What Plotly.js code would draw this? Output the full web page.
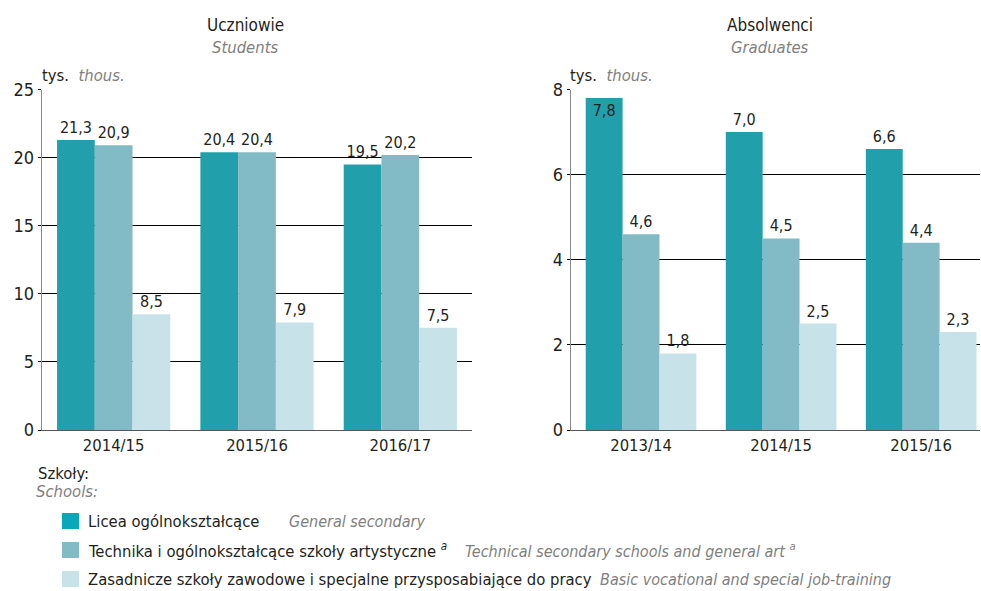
<!DOCTYPE html>
<html>
<head>
<meta charset="utf-8">
<script src="https://cdn.plot.ly/plotly-3.0.1.min.js"></script>
<style>html,body{margin:0;padding:0;background:#fff;}#chart{width:981px;height:591px;}</style>
</head>
<body>
<div id="chart"></div>
<script>
// ---- data ----
var studentYears = ['2014/15', '2015/16', '2016/17'];
var graduateYears = ['2013/14', '2014/15', '2015/16'];
var studentsGeneral = [21.3, 20.4, 19.5];
var studentsTechnical = [20.9, 20.4, 20.2];
var studentsVocational = [8.5, 7.9, 7.5];
var graduatesGeneral = [7.8, 7.0, 6.6];
var graduatesTechnical = [4.6, 4.5, 4.4];
var graduatesVocational = [1.8, 2.5, 2.3];
var seriesNamesPl = ['Licea ogólnokształcące', 'Technika i ogólnokształcące szkoły artystyczne <sup><i>a</i></sup>', 'Zasadnicze szkoły zawodowe i specjalne przysposabiające do pracy'];
var seriesNamesEn = ['General secondary', 'Technical secondary schools and general art <sup>a</sup>', 'Basic vocational and special job-training'];
var studentTicks = [0, 5, 10, 15, 20, 25];
var graduateTicks = [0, 2, 4, 6, 8];

// ---- style ----
var FONT = '"DejaVu Sans Condensed", "Liberation Sans Narrow", "Arial Narrow", sans-serif';
var DARK = '#231f20';
var GRAY = '#7f7f80';
var colors = ['#21a0ab', '#82bbc6', '#c8e2e9'];
var swatchColors = ['#09a8b8', '#82bbc6', '#c8e2e9'];
var LBL = 16;

function bars(x, y, i, xa, ya, positions) {
  return {
    type: 'bar', x: x, y: y, xaxis: xa, yaxis: ya,
    marker: {color: colors[i], line: {width: 0}},
    texttemplate: '%{y:.1f}',
    textposition: positions || 'outside',
    insidetextanchor: 'end',
    textfont: {family: FONT, size: LBL, color: DARK},
    insidetextfont: {family: FONT, size: LBL, color: DARK},
    outsidetextfont: {family: FONT, size: LBL, color: DARK},
    cliponaxis: false,
    showlegend: false,
    hoverinfo: 'skip'
  };
}

var data = [
  bars(studentYears, studentsGeneral, 0, 'x', 'y'),
  bars(studentYears, studentsTechnical, 1, 'x', 'y'),
  bars(studentYears, studentsVocational, 2, 'x', 'y'),
  bars(graduateYears, graduatesGeneral, 0, 'x2', 'y2', ['inside', 'outside', 'outside']),
  bars(graduateYears, graduatesTechnical, 1, 'x2', 'y2'),
  bars(graduateYears, graduatesVocational, 2, 'x2', 'y2')
];

var W = 981, H = 591;
function px(v) { return v / W; }
function py(v) { return 1 - v / H; }

var yDom = [py(430), py(89.5)];
var axisCommonX = {
  type: 'category', showgrid: false, zeroline: false,
  showline: true, linecolor: '#555555', linewidth: 1.3,
  ticks: '', tickfont: {family: FONT, size: 16.5, color: DARK},
  fixedrange: true
};
var axisCommonY = {
  showgrid: true, gridcolor: '#000000', gridwidth: 1,
  zeroline: false, showline: true, linecolor: '#8a8a8a', linewidth: 1.3,
  ticks: 'outside', ticklen: 3, tickcolor: '#000000', tickwidth: 1,
  tickfont: {family: FONT, size: 18, color: DARK}, fixedrange: true
};

var annotations = [
  {text: 'Uczniowie', x: px(245), y: py(25), font: {family: FONT, size: 17, color: DARK}},
  {text: '<i>Students</i>', x: px(245), y: py(47), font: {family: FONT, size: 16.5, color: GRAY}},
  {text: 'Absolwenci', x: px(770), y: py(25), font: {family: FONT, size: 17, color: DARK}},
  {text: '<i>Graduates</i>', x: px(770), y: py(47), font: {family: FONT, size: 16.5, color: GRAY}},
  {text: 'tys.  <span style="color:' + GRAY + '"><i>thous.</i></span>', x: px(40), y: py(75), xanchor: 'left', font: {family: FONT, size: 16.5, color: DARK}},
  {text: 'tys.  <span style="color:' + GRAY + '"><i>thous.</i></span>', x: px(568), y: py(75), xanchor: 'left', font: {family: FONT, size: 16.5, color: DARK}},
  {text: 'Szkoły:', x: px(36), y: py(473), xanchor: 'left', font: {family: FONT, size: 16.5, color: DARK}},
  {text: '<i>Schools:</i>', x: px(34), y: py(491), xanchor: 'left', font: {family: FONT, size: 16.5, color: GRAY}}
];
var rowY = [521, 550, 579];
var enX = [287, 463, 598];
var shapes = [];
for (var i = 0; i < 3; i++) {
  annotations.push({text: seriesNamesPl[i], x: px(86), y: py(rowY[i]), xanchor: 'left', font: {family: FONT, size: 16.5, color: DARK}});
  annotations.push({text: '<i>' + seriesNamesEn[i] + '</i>', x: px(enX[i]), y: py(rowY[i]), xanchor: 'left', font: {family: FONT, size: 16, color: GRAY}});
  shapes.push({type: 'rect', xref: 'paper', yref: 'paper', x0: px(62), x1: px(79), y0: py(rowY[i] + 8), y1: py(rowY[i] - 8), fillcolor: swatchColors[i], line: {width: 0}});
}
annotations.forEach(function (a) {
  a.xref = 'paper'; a.yref = 'paper'; a.showarrow = false;
  if (!a.xanchor) a.xanchor = 'center';
  a.yanchor = 'middle';
});

var layout = {
  width: W, height: H,
  margin: {l: 0, r: 0, t: 0, b: 0},
  paper_bgcolor: '#ffffff', plot_bgcolor: '#ffffff',
  separators: ', ',
  barmode: 'group', bargap: 0.21, bargroupgap: 0,
  showlegend: false,
  font: {family: FONT, size: 16.5, color: DARK},
  xaxis: Object.assign({}, axisCommonX, {domain: [px(42), px(472)], range: [-0.5, 2.5], anchor: 'y'}),
  yaxis: Object.assign({}, axisCommonY, {domain: yDom, range: [0, 25], tickvals: studentTicks, anchor: 'x'}),
  xaxis2: Object.assign({}, axisCommonX, {domain: [px(571), px(980)], range: [-0.5, 2.42], anchor: 'y2'}),
  yaxis2: Object.assign({}, axisCommonY, {domain: yDom, range: [0, 8], tickvals: graduateTicks, anchor: 'x2'}),
  annotations: annotations,
  shapes: shapes
};

Plotly.newPlot('chart', data, layout, {displayModeBar: false, staticPlot: true});
</script>
</body>
</html>
